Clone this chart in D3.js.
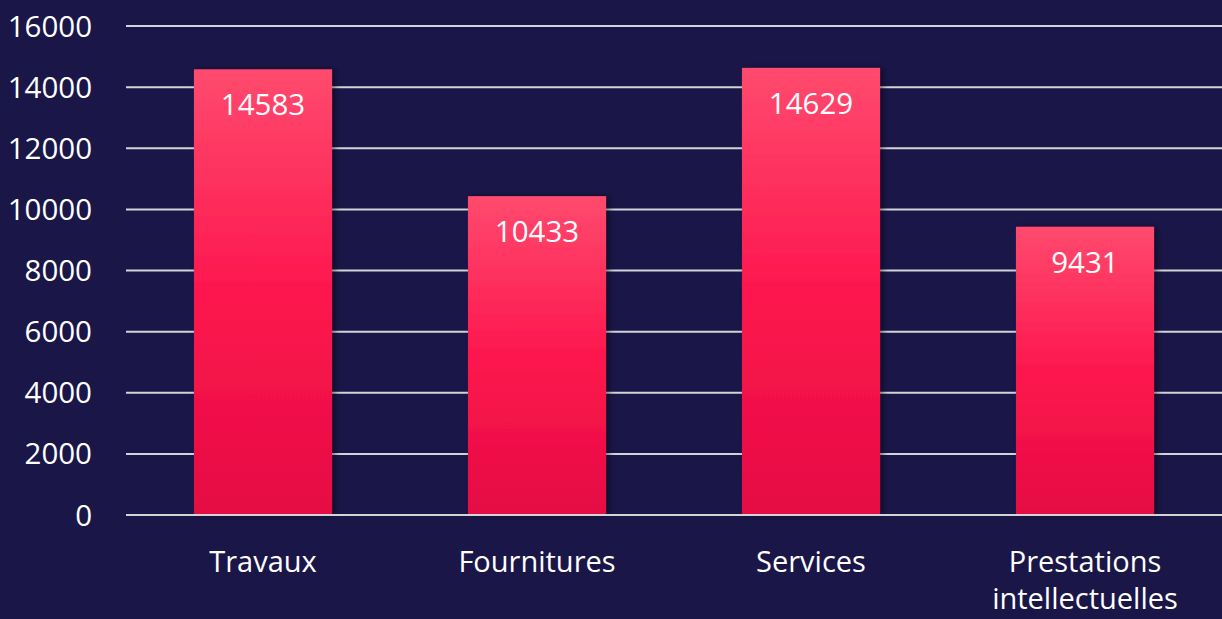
<!DOCTYPE html>
<html>
<head>
<meta charset="utf-8">
<script src="https://cdn.jsdelivr.net/npm/d3@7"></script>
<style>
  html, body { margin: 0; padding: 0; background: #1a1648; overflow: hidden; }
  text { font-family: "Open Sans", "Noto Sans", sans-serif; fill: #ffffff; }
</style>
</head>
<body>
<svg id="chart"></svg>
<script>
var categories = ["Travaux", "Fournitures", "Services", "Prestations intellectuelles"];
var values = [14583, 10433, 14629, 9431];
var yTicks = [0, 2000, 4000, 6000, 8000, 10000, 12000, 14000, 16000];

var width = 1222, height = 619;
var plotLeft = 126, plotRight = 1222, plotTop = 26, plotBottom = 515;
var numSize = 29.5, labelSize = 29;

var svg = d3.select("#chart").attr("width", width).attr("height", height);

// gradient + shadow
var defs = svg.append("defs");
var grad = defs.append("linearGradient").attr("id", "barGrad")
  .attr("x1", 0).attr("y1", 0).attr("x2", 0).attr("y2", 1);
grad.append("stop").attr("offset", "0%").attr("stop-color", "#ff4a6e");
grad.append("stop").attr("offset", "50%").attr("stop-color", "#fd174d");
grad.append("stop").attr("offset", "100%").attr("stop-color", "#e50b44");

var shadow = defs.append("filter").attr("id", "shadow")
  .attr("x", "-20%").attr("y", "-10%").attr("width", "140%").attr("height", "120%");
shadow.append("feDropShadow").attr("dx", 3).attr("dy", 0).attr("stdDeviation", 3)
  .attr("flood-color", "#000").attr("flood-opacity", 0.45);

// scales
var y = d3.scaleLinear().domain([0, 16000]).range([plotBottom, plotTop]);
var x = d3.scaleBand().domain(categories).range([plotLeft, plotRight]).paddingInner(0.496).paddingOuter(0.248);

// grid lines
svg.append("g")
  .selectAll("line")
  .data(yTicks)
  .enter().append("line")
  .attr("x1", plotLeft).attr("x2", plotRight)
  .attr("y1", function(d){ return y(d); })
  .attr("y2", function(d){ return y(d); })
  .attr("stroke", "#d4d4d8")
  .attr("stroke-width", 2);

// y axis labels
var yAxis = d3.axisLeft(y).tickValues(yTicks).tickSize(0).tickPadding(0).tickFormat(d3.format("d"));
var ya = svg.append("g").attr("transform", "translate(92,0)").call(yAxis);
ya.select(".domain").remove();
ya.selectAll("text").attr("font-size", numSize).attr("fill", "#fff")
  .attr("font-family", "'Open Sans', 'Noto Sans', sans-serif").attr("dy", "0.34em");

// bars
var bars = svg.append("g").selectAll("g")
  .data(values)
  .enter().append("g");

bars.append("rect")
  .attr("x", function(d, i){ return x(categories[i]); })
  .attr("y", function(d){ return y(d); })
  .attr("width", x.bandwidth())
  .attr("height", function(d){ return y(0) - y(d); })
  .attr("fill", "url(#barGrad)")
  .attr("filter", "url(#shadow)");

bars.append("text")
  .attr("x", function(d, i){ return x(categories[i]) + x.bandwidth() / 2; })
  .attr("y", function(d){ return y(d) + 46; })
  .attr("text-anchor", "middle")
  .attr("font-size", numSize)
  .text(function(d){ return d; });

// baseline redrawn over bars
svg.append("line")
  .attr("x1", plotLeft).attr("x2", plotRight)
  .attr("y1", y(0)).attr("y2", y(0))
  .attr("stroke", "#d4d4d8").attr("stroke-width", 2);

// x axis labels
var xa = svg.append("g");
categories.forEach(function(c){
  var words = c.split(" ");
  var t = xa.append("text")
    .attr("x", x(c) + x.bandwidth() / 2)
    .attr("y", plotBottom + 57)
    .attr("text-anchor", "middle")
    .attr("font-size", labelSize);
  words.forEach(function(w, j){
    t.append("tspan")
      .attr("x", x(c) + x.bandwidth() / 2)
      .attr("dy", j === 0 ? 0 : 37)
      .text(w);
  });
});
</script>
</body>
</html>
